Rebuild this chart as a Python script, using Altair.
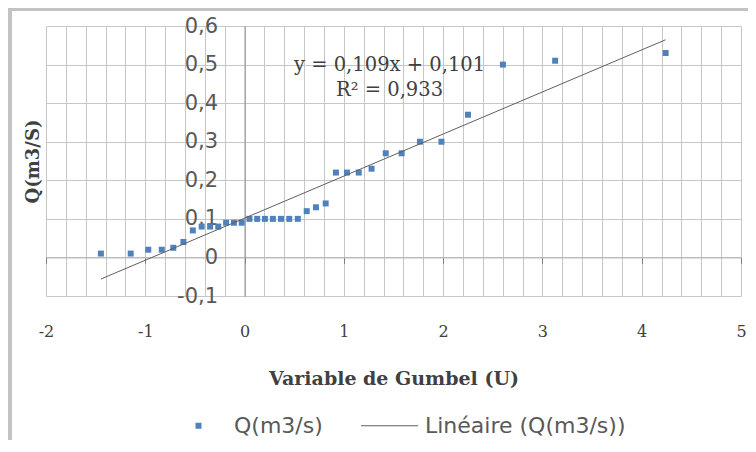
import altair as alt
import pandas as pd

# ---- data ----
u_gumbel = [-1.447, -1.147, -0.970, -0.834, -0.718, -0.616, -0.521, -0.432, -0.347, -0.265,
            -0.186, -0.107, -0.029, 0.049, 0.127, 0.205, 0.285, 0.367, 0.450, 0.536,
            0.626, 0.719, 0.817, 0.920, 1.031, 1.150, 1.279, 1.422, 1.582, 1.766,
            1.983, 2.250, 2.602, 3.128, 4.241]
q_debit = [0.01, 0.01, 0.02, 0.02, 0.025, 0.04, 0.07, 0.08, 0.08, 0.08,
           0.09, 0.09, 0.09, 0.10, 0.10, 0.10, 0.10, 0.10, 0.10, 0.10,
           0.12, 0.13, 0.14, 0.22, 0.22, 0.22, 0.23, 0.27, 0.27, 0.30,
           0.30, 0.37, 0.50, 0.51, 0.53]
series_names = ["Q(m3/s)", "Linéaire (Q(m3/s))"]
series_colors = ["#4f81bd", "#5f5f5f"]
equation_lines = ["y = 0,109x + 0,101", "R² = 0,933"]
x_domain = [-2, 5]
y_domain = [-0.1, 0.6]
x_major = [-2, -1, 0, 1, 2, 3, 4, 5]
y_ticks = [-0.1, 0, 0.1, 0.2, 0.3, 0.4, 0.5, 0.6]
x_grid = [round(-2 + 0.2 * i, 1) for i in range(36)]

W, H = 695, 270
GRID = "#c6c6c6"

df = pd.DataFrame({"u": u_gumbel, "q": q_debit, "serie": series_names[0]})
one = pd.DataFrame({"k": [0]})

xs = alt.Scale(domain=x_domain, nice=False, zero=False)
ys = alt.Scale(domain=y_domain, nice=False, zero=False)

x_axis = alt.Axis(values=x_grid, grid=True, gridColor=GRID, gridWidth=1, ticks=False, domain=False,
                  labelExpr="abs(datum.value - round(datum.value)) < 0.001 ? '' + round(datum.value) : ''",
                  labelFont="DejaVu Serif", labelFontSize=16, labelColor="#404040", labelPadding=27,
                  labelFlush=False, labelOverlap=False,
                  title="Variable de Gumbel (U)", titleFont="DejaVu Serif", titleFontSize=19,
                  titleFontWeight="bold", titleColor="#404040", titlePadding=30, orient="bottom")

y_axis_grid = alt.Axis(values=y_ticks, grid=True, gridColor=GRID, gridWidth=1, labels=False, ticks=False,
                       domain=False, title="Q(m3/S)", titleFont="DejaVu Serif", titleFontSize=18,
                       titleFontWeight="bold", titleColor="#404040", titlePadding=4, orient="left")

y_axis_lab = alt.Axis(values=y_ticks, grid=False, ticks=False, domain=True, domainColor="#8c8c8c",
                      domainWidth=1, labelExpr="replace('' + datum.value, '.', ',')",
                      labelFont="DejaVu Sans", labelFontSize=21, labelColor="#595959", labelPadding=27,
                      labelFlush=False, labelOverlap=False, offset=-W * 2 / 7, title=None, orient="left")

x_axis_zero = alt.Axis(values=x_major, grid=False, labels=False, ticks=True, tickSize=6, tickColor="#7f7f7f",
                       domain=True, domainColor="#b4b4b4", offset=-H * 0.1 / 0.7, title=None, orient="bottom")

legend = alt.Legend(title=None, orient="none", legendX=124, legendY=371, direction="horizontal",
                    symbolSize=3249, symbolStrokeWidth=0, labelFont="DejaVu Sans", labelFontSize=22,
                    labelColor="#595959", labelOffset=7, columnPadding=38, padding=0, labelLimit=400)

square_path = "M-0.105,-0.105H0.105V0.105H-0.105Z"
line_path = "M-1,-0.018H1V0.018H-1Z"

points = alt.Chart(df).mark_point(filled=True, size=3249, opacity=1).encode(
    x=alt.X("u:Q", scale=xs, axis=x_axis),
    y=alt.Y("q:Q", scale=ys, axis=y_axis_grid),
    color=alt.Color("serie:N", scale=alt.Scale(domain=series_names, range=series_colors), legend=legend),
    shape=alt.Shape("serie:N", scale=alt.Scale(domain=series_names, range=[square_path, line_path]), legend=legend),
)

trend = alt.Chart(df).transform_regression("u", "q", method="linear").mark_line(
    color=series_colors[1], strokeWidth=1
).encode(
    x=alt.X("u:Q", scale=xs, axis=x_axis_zero),
    y=alt.Y("q:Q", scale=ys, axis=y_axis_lab),
)

eq_text = alt.Chart(one).mark_text(font="DejaVu Serif", fontSize=19.5, color="#404040", align="center",
                                   baseline="middle", lineHeight=25).encode(
    x=alt.XDatum(1.46, axis=None),
    y=alt.YDatum(0.5, axis=None),
    text=alt.value(equation_lines),
)

frame_left = alt.Chart(one).mark_rule(color="#c3c3c3", strokeWidth=4).encode(
    x=alt.value(-36), y=alt.value(-18), y2=alt.value(420))
frame_top = alt.Chart(one).mark_rule(color="#c3c3c3", strokeWidth=3).encode(
    x=alt.value(-38), x2=alt.value(702), y=alt.value(-16.5))

chart = alt.layer(points, trend, eq_text, frame_left, frame_top).resolve_axis(
    x="independent", y="independent"
).properties(
    width=W, height=H,
    autosize=alt.AutoSizeParams(type="none"),
    padding={"left": 38, "top": 18, "right": 7, "bottom": 144},
).configure_view(stroke=None)

chart.save("out.html", embed_options={"renderer": "svg", "actions": False})
